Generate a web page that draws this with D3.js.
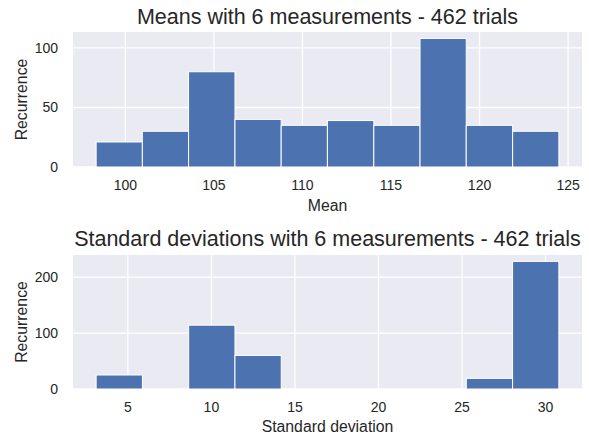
<!DOCTYPE html>
<html>
<head>
<meta charset="utf-8">
<script src="https://cdn.jsdelivr.net/npm/d3@7"></script>
<style>
  body { margin: 0; background: #fff; }
  svg text { font-family: "Liberation Sans", Arial, sans-serif; fill: #262626; }
</style>
</head>
<body>
<script>
// histogram bins
const meanEdges = [98.35, 100.96, 103.57, 106.19, 108.80, 111.41, 114.03, 116.64, 119.25, 121.87, 124.48];
const meanCounts = [21, 30, 80, 40, 35, 39, 35, 108, 35, 30];
const meanTicksX = [100, 105, 110, 115, 120, 125];
const meanTicksY = [0, 50, 100];

const sdEdges = [3.10, 5.87, 8.64, 11.41, 14.18, 16.95, 19.72, 22.49, 25.26, 28.03, 30.80];
const sdCounts = [25, 0, 114, 60, 0, 0, 0, 0, 19, 228];
const sdTicksX = [5, 10, 15, 20, 25, 30];
const sdTicksY = [0, 100, 200];

const width = 589,
  height = 438;

const svg = d3
  .select("body")
  .append("svg")
  .attr("width", width)
  .attr("height", height);

function drawHist(opts) {
  const { edges, counts, ticksX, ticksY, top, bottom, title, xLabel, titleY, xLabelY } = opts;
  const left = 73,
    right = 582;

  const lo = edges[0],
    hi = edges[edges.length - 1],
    pad = (hi - lo) * 0.05;
  const x = d3.scaleLinear().domain([lo - pad, hi + pad]).range([left, right]);
  const y = d3
    .scaleLinear()
    .domain([0, d3.max(counts) * 1.05])
    .range([bottom, top]);

  const g = svg.append("g");

  g.append("rect")
    .attr("x", left)
    .attr("y", top)
    .attr("width", right - left)
    .attr("height", bottom - top)
    .attr("fill", "#eaeaf2");

  // grid
  g.selectAll(".gx")
    .data(ticksX)
    .enter()
    .append("line")
    .attr("x1", d => x(d))
    .attr("x2", d => x(d))
    .attr("y1", top)
    .attr("y2", bottom)
    .attr("stroke", "#fff")
    .attr("stroke-width", 1.3);

  g.selectAll(".gy")
    .data(ticksY)
    .enter()
    .append("line")
    .attr("x1", left)
    .attr("x2", right)
    .attr("y1", d => y(d))
    .attr("y2", d => y(d))
    .attr("stroke", "#fff")
    .attr("stroke-width", 1.3);

  const bins = counts.map((c, i) => ({ x0: edges[i], x1: edges[i + 1], c }));

  g.selectAll(".bar")
    .data(bins.filter(d => d.c > 0))
    .enter()
    .append("rect")
    .attr("x", d => x(d.x0))
    .attr("y", d => y(d.c))
    .attr("width", d => x(d.x1) - x(d.x0))
    .attr("height", d => y(0) - y(d.c))
    .attr("fill", "#4c72b0")
    .attr("stroke", "#fff")
    .attr("stroke-width", 1);

  g.selectAll(".tx")
    .data(ticksX)
    .enter()
    .append("text")
    .attr("x", d => x(d))
    .attr("y", bottom + 23)
    .attr("text-anchor", "middle")
    .attr("font-size", 14)
    .text(d => d);

  g.selectAll(".ty")
    .data(ticksY)
    .enter()
    .append("text")
    .attr("x", left - 15)
    .attr("y", d => y(d) + 5)
    .attr("text-anchor", "end")
    .attr("font-size", 14)
    .text(d => d);

  g.append("text")
    .attr("transform", `translate(27,${(top + bottom) / 2}) rotate(-90)`)
    .attr("text-anchor", "middle")
    .attr("font-size", 15.8)
    .text("Recurrence");

  g.append("text")
    .attr("x", (left + right) / 2)
    .attr("y", xLabelY)
    .attr("text-anchor", "middle")
    .attr("font-size", 15.8)
    .text(xLabel);

  g.append("text")
    .attr("x", (left + right) / 2)
    .attr("y", titleY)
    .attr("text-anchor", "middle")
    .attr("font-size", 21.5)
    .text(title);
}

drawHist({
  edges: meanEdges,
  counts: meanCounts,
  ticksX: meanTicksX,
  ticksY: meanTicksY,
  top: 32,
  bottom: 167,
  title: "Means with 6 measurements - 462 trials",
  xLabel: "Mean",
  titleY: 24,
  xLabelY: 211
});

drawHist({
  edges: sdEdges,
  counts: sdCounts,
  ticksX: sdTicksX,
  ticksY: sdTicksY,
  top: 255,
  bottom: 389,
  title: "Standard deviations with 6 measurements - 462 trials",
  xLabel: "Standard deviation",
  titleY: 246,
  xLabelY: 432
});
</script>
</body>
</html>
